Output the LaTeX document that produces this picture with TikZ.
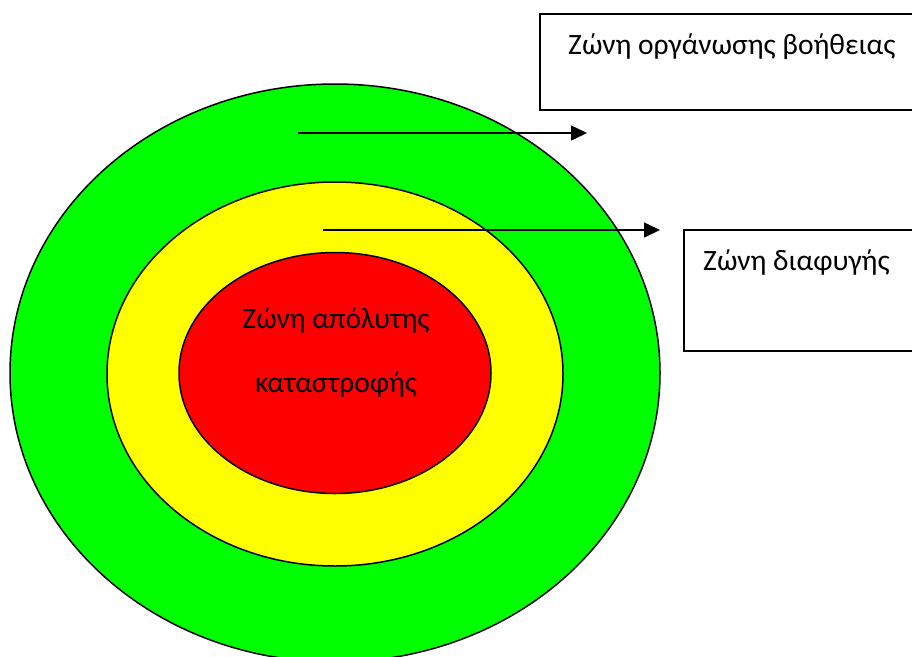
\documentclass[tikz,border=0pt]{standalone}
\usepackage{fontspec}
\setmainfont{Carlito}
\usetikzlibrary{shapes}
\usetikzlibrary{arrows.meta}

\definecolor{zonegreen}{RGB}{0,255,0}
\definecolor{zoneyellow}{RGB}{255,255,0}
\definecolor{zonered}{RGB}{255,0,0}

\tikzset{
  zone/.style={ellipse, draw=black, line width=1.5pt, inner sep=0pt},
  zonebox/.style={draw=black, line width=1.5pt, anchor=north west, inner sep=0pt},
  zonetext/.style={inner sep=0pt, font=\fontsize{29.5}{35}\selectfont},
  zonearrow/.style={line width=1.5pt, -{Triangle[length=16pt,width=15pt]}}
}

\begin{document}
\begin{tikzpicture}[x=1pt,y=-1pt]
\useasboundingbox (0,0) rectangle (912,656);
\clip (0,0) rectangle (912,656);

% zones
\node [zone, fill=zonegreen, minimum width=650pt, minimum height=578pt] (help) at (335,373) {};
\node [zone, fill=zoneyellow, minimum width=456pt, minimum height=384pt] (escape) at (335,374) {};
\node [zone, fill=zonered, minimum width=312pt, minimum height=241pt] (ruin) at (335,373) {};
\node [zonetext] (ruin1) at (336,320) {Ζώνη απόλυτης};
\node [zonetext] (ruin2) at (336,384) {καταστροφής};

% boxes
\node [zonebox, minimum width=390pt, minimum height=96pt] (helpbox) at (539,13) {};
\node [zonetext, anchor=west] (helptext) at (568,47) {Ζώνη οργάνωσης βοήθειας};
\node [zonebox, minimum width=240pt, minimum height=121pt] (escbox) at (683,229) {};
\node [zonetext, anchor=west] (esctext) at (703,262) {Ζώνη διαφυγής};

% arrows
\coordinate (h0) at (298,133);
\coordinate (h1) at (587,133);
\coordinate (e0) at (323,230);
\coordinate (e1) at (660,230);
\draw [zonearrow] (h0) -- (h1);
\draw [zonearrow] (e0) -- (e1);
\end{tikzpicture}
\end{document}
